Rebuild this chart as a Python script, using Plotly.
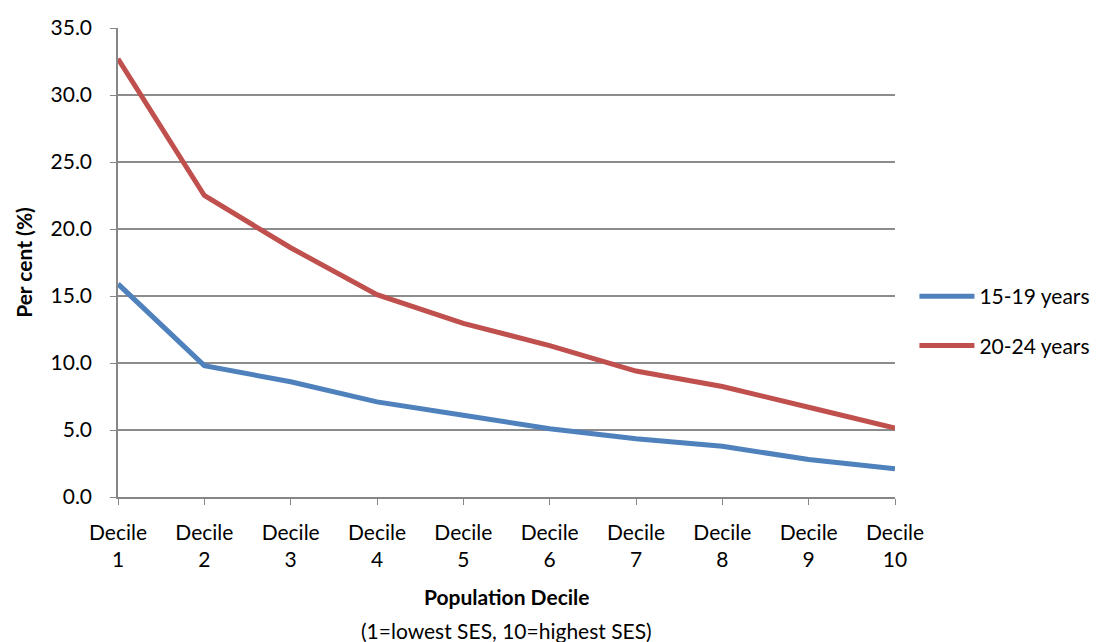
import plotly.graph_objects as go

deciles = [1, 2, 3, 4, 5, 6, 7, 8, 9, 10]
tick_labels = ["Decile<br>%d" % d for d in deciles]
y_ticks = [0, 5, 10, 15, 20, 25, 30, 35]
series_names = ["15-19 years", "20-24 years"]
vals_15_19 = [15.9, 9.8, 8.6, 7.1, 6.1, 5.1, 4.35, 3.78, 2.8, 2.1]
vals_20_24 = [32.7, 22.5, 18.6, 15.1, 12.95, 11.3, 9.4, 8.25, 6.7, 5.15]
colors = ["#4F81BD", "#C0504D"]

FONT = "Lato, 'Open Sans', sans-serif"
FS = 21

fig = go.Figure()
for i, (name, vals) in enumerate(zip(series_names, [vals_15_19, vals_20_24])):
    fig.add_trace(go.Scatter(
        x=deciles, y=vals, mode="lines", name=name,
        line=dict(color=colors[i], width=5),
        legendgroup=name,
    ))

fig.update_layout(
    width=1105, height=642,
    margin=dict(l=118, r=210, t=28, b=145, autoexpand=False),
    paper_bgcolor="white", plot_bgcolor="white",
    font=dict(family=FONT, size=FS, color="#000000"),
    showlegend=True,
    legend=dict(
        x=1.025, y=0.375, xanchor="left", yanchor="middle",
        font=dict(family=FONT, size=FS, color="#000000"),
        traceorder="grouped", tracegroupgap=19,
        itemwidth=55, bgcolor="rgba(0,0,0,0)",
    ),
    xaxis=dict(
        range=[1, 10], tickmode="array", tickvals=deciles, ticktext=tick_labels,
        showgrid=False, showline=True, linecolor="#868686", linewidth=1.5,
        ticks="outside", ticklen=6, tickcolor="#868686",
        tickfont=dict(family=FONT, size=FS), zeroline=False,
        ticklabelstandoff=10,
    ),
    yaxis=dict(
        range=[0, 35], tickmode="array", tickvals=y_ticks,
        ticktext=["%.1f" % v for v in y_ticks],
        showgrid=True, gridcolor="#8c8c8c", gridwidth=1.5,
        showline=True, linecolor="#868686", linewidth=1.5,
        ticks="outside", ticklen=6, tickcolor="#868686",
        tickfont=dict(family=FONT, size=FS), zeroline=False,
        ticklabelstandoff=14,
        title=dict(text="<b>Per cent (%)</b>", font=dict(family=FONT, size=FS), standoff=12),
    ),
)

fig.add_annotation(text="<b>Population Decile</b>", xref="paper", yref="paper",
                   x=0.5, y=-0.213, xanchor="center", yanchor="middle",
                   showarrow=False, font=dict(family=FONT, size=FS))
fig.add_annotation(text="(1=lowest SES, 10=highest SES)", xref="paper", yref="paper",
                   x=0.5, y=-0.284, xanchor="center", yanchor="middle",
                   showarrow=False, font=dict(family=FONT, size=FS))

fig.write_html("out.html")
